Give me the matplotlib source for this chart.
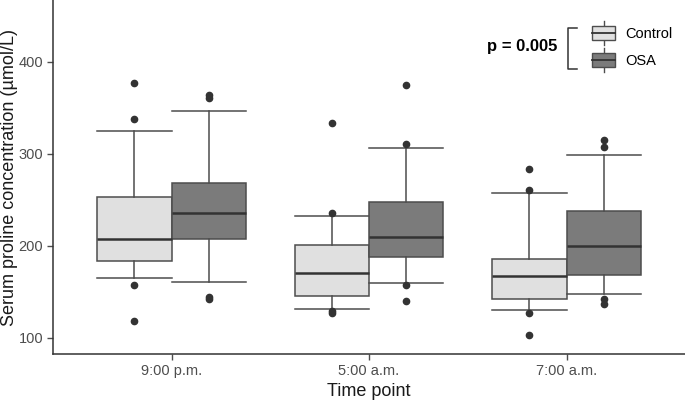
import matplotlib
matplotlib.use("Agg")
import matplotlib.pyplot as plt
from matplotlib.legend_handler import HandlerBase
from matplotlib.patches import Rectangle, Patch
from matplotlib.lines import Line2D

plt.rcParams['font.family'] = ['Liberation Sans', 'DejaVu Sans']

# ---- data (µmol/L) ----
time_points = ["9:00 p.m.", "5:00 a.m.", "7:00 a.m."]
groups = ["Control", "OSA"]

ctrl_whislo = [165, 131, 130]
ctrl_q1     = [184, 146, 142]
ctrl_med    = [207, 171, 167]
ctrl_q3     = [253, 201, 186]
ctrl_whishi = [325, 232, 257]
ctrl_fliers = [[377, 338, 157, 118], [333, 236, 129, 127], [283, 261, 127, 103]]

osa_whislo = [161, 160, 148]
osa_q1     = [207, 188, 168]
osa_med    = [236, 210, 200]
osa_q3     = [268, 248, 238]
osa_whishi = [347, 306, 299]
osa_fliers = [[364, 361, 145, 142], [375, 311, 158, 140], [315, 307, 142, 137]]

p_text = "p = 0.005"

fill = {"Control": "#e0e0e0", "OSA": "#7b7b7b"}
edge = "#4d4d4d"


def stats(lo, q1, med, q3, hi, fl):
    return [dict(whislo=a, q1=b, med=c, q3=d, whishi=e, fliers=f)
            for a, b, c, d, e, f in zip(lo, q1, med, q3, hi, fl)]


fig = plt.figure(figsize=(6.85, 4.01), dpi=100)
ax = fig.add_axes([0.0774, 0.1172, 0.9226, 0.8828])

w = 0.375
for g, st, off in [("Control", stats(ctrl_whislo, ctrl_q1, ctrl_med, ctrl_q3, ctrl_whishi, ctrl_fliers), -w / 2),
                   ("OSA", stats(osa_whislo, osa_q1, osa_med, osa_q3, osa_whishi, osa_fliers), w / 2)]:
    pos = [i + off for i in range(len(time_points))]
    ax.bxp(st, positions=pos, widths=w, patch_artist=True, manage_ticks=False,
           boxprops=dict(facecolor=fill[g], edgecolor=edge, lw=1.1),
           medianprops=dict(color="#333333", lw=1.8),
           whiskerprops=dict(color=edge, lw=1.1),
           capprops=dict(color=edge, lw=1.1), capwidths=w,
           flierprops=dict(marker="o", markerfacecolor="#333333", markeredgecolor="#333333", markersize=4.5))

ax.set_xlim(-0.6, 2.6)
ax.set_ylim(82.6, 467)
ax.set_xticks(range(len(time_points)))
ax.set_xticklabels(time_points)
ax.set_yticks([100, 200, 300, 400])
for s in ["top", "right"]:
    ax.spines[s].set_visible(False)
for s in ["left", "bottom"]:
    ax.spines[s].set_color("#333333")
    ax.spines[s].set_linewidth(1.1)
ax.tick_params(colors="#4d4d4d", labelsize=10.5, length=4, width=1)
ax.tick_params(axis="y", pad=3)
ax.set_xlabel("Time point", fontsize=13, color="#1a1a1a", labelpad=3)
ax.set_ylabel("Serum proline concentration (µmol/L)", fontsize=13, color="#1a1a1a")
ax.yaxis.set_label_coords(-0.056, 0.5)


class BoxHandler(HandlerBase):
    def create_artists(self, legend, orig, xd, yd, width, height, fontsize, trans):
        x0, y0 = -xd, -yd
        fc = orig.get_facecolor()
        r = Rectangle((x0, y0), width, height, facecolor=fc, edgecolor=edge, lw=1, transform=trans)
        m = Line2D([x0, x0 + width], [y0 + height / 2] * 2, color="#333333", lw=1.3, transform=trans)
        t = Line2D([x0 + width / 2] * 2, [y0 + height, y0 + height * 1.4], color=edge, lw=1, transform=trans)
        b = Line2D([x0 + width / 2] * 2, [y0 - height * 0.4, y0], color=edge, lw=1, transform=trans)
        return [t, b, r, m]


handles = [Patch(facecolor=fill[g]) for g in groups]
leg = ax.legend(handles, groups, handler_map={Patch: BoxHandler()}, loc="upper left",
                bbox_to_anchor=(592 / 685, 1 - 26 / 401), bbox_transform=fig.transFigure,
                frameon=False, fontsize=10.5, handlelength=1.6, handleheight=1.05,
                labelspacing=0.85, handletextpad=0.7, borderpad=0, borderaxespad=0)

fig.text(557 / 685, 1 - 46 / 401, p_text, fontsize=12, fontweight="bold", ha="right", va="center")
fig.lines.append(Line2D([577 / 685, 568 / 685, 568 / 685, 577 / 685],
                        [1 - 28 / 401, 1 - 28 / 401, 1 - 69 / 401, 1 - 69 / 401],
                        color="#333333", lw=1.1, transform=fig.transFigure))

fig.savefig("out.png", dpi=100)
